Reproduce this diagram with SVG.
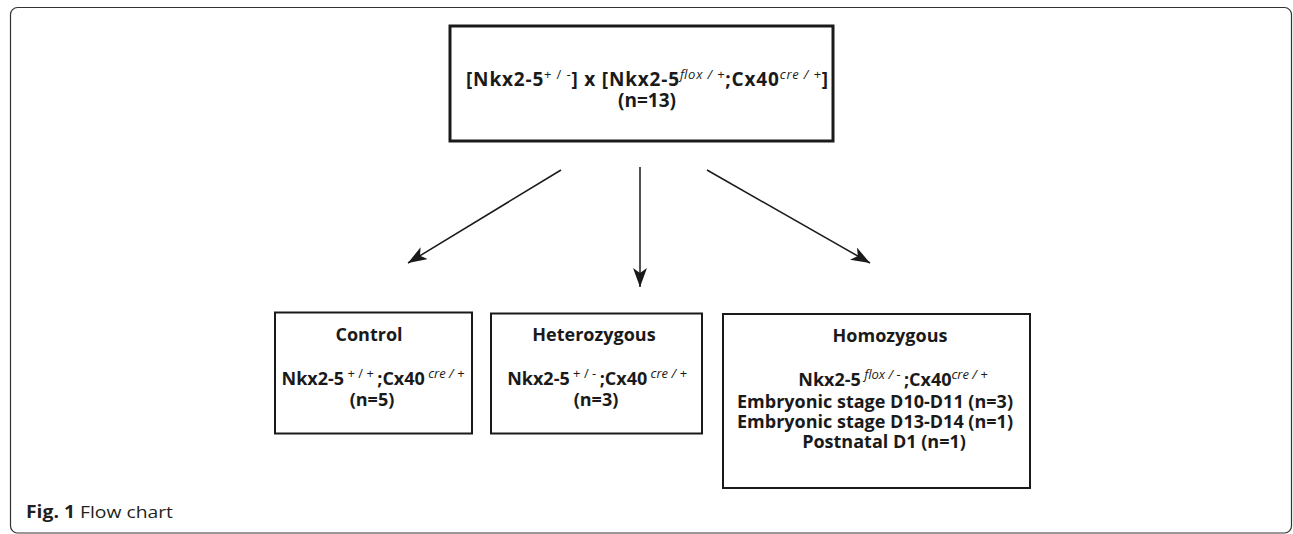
<svg xmlns="http://www.w3.org/2000/svg" width="1293" height="534" viewBox="0 0 1293 534">
<style>
.box{fill:#fff;stroke:#1a1a1a}
.t{font-family:"Open Sans","Noto Sans",sans-serif;font-weight:bold;font-size:18px;fill:#1a1a1a;text-anchor:middle}
.big{font-size:19px}
.sup{font-size:13px;font-weight:normal}
.it{font-style:italic}
.cap{font-family:"Open Sans","Noto Sans",sans-serif;font-size:17px;fill:#231f20}
.conn{stroke:#1a1a1a;stroke-width:1.5;fill:none}
</style>
<defs>
<marker id="ah" markerUnits="userSpaceOnUse" markerWidth="22" markerHeight="16" refX="19" refY="7" orient="auto">
<path d="M0,0 L19,7 L0,14 L5,7 Z" fill="#1a1a1a"/>
</marker>
</defs>
<rect x="10.5" y="7.5" width="1281" height="525.5" rx="7" fill="none" stroke="#333" stroke-width="1.2"/>
<g id="top">
<rect class="box" x="450" y="26" width="383" height="115" stroke-width="3"/>
<text class="t big" x="647" y="86" textLength="362" lengthAdjust="spacing">[Nkx2-5<tspan class="sup" font-size="14" dy="-7">+ / -</tspan><tspan dy="7">] x [Nkx2-5</tspan><tspan class="sup it" font-size="14" dy="-7">flox / +</tspan><tspan dy="7">;Cx40</tspan><tspan class="sup it" font-size="14" dy="-7">cre / +</tspan><tspan dy="7">]</tspan></text>
<text class="t big" x="647" y="107">(n=13)</text>
</g>
<g id="control">
<rect class="box" x="275" y="312.5" width="197" height="121" stroke-width="2"/>
<text class="t" x="369" y="341">Control</text>
<text class="t" x="373" y="385">Nkx2-5<tspan class="sup" dy="-7"> + / + </tspan><tspan dy="7">;Cx40</tspan><tspan class="sup it" dy="-7"> cre / +</tspan></text>
<text class="t" x="372" y="406">(n=5)</text>
</g>
<g id="heterozygous">
<rect class="box" x="491" y="313.5" width="211" height="120" stroke-width="2"/>
<text class="t" x="594" y="341">Heterozygous</text>
<text class="t" x="597" y="385">Nkx2-5<tspan class="sup" dy="-7"> + / - </tspan><tspan dy="7">;Cx40</tspan><tspan class="sup it" dy="-7"> cre / +</tspan></text>
<text class="t" x="596" y="406">(n=3)</text>
</g>
<g id="homozygous">
<rect class="box" x="723" y="314" width="307" height="174" stroke-width="2"/>
<text class="t" x="890" y="342">Homozygous</text>
<text class="t" x="893" y="386">Nkx2-5<tspan class="sup it" dy="-7"> flox / - </tspan><tspan dy="7">;Cx40</tspan><tspan class="sup it" dy="-7">cre / +</tspan></text>
<text class="t" x="875" y="408">Embryonic stage D10-D11 (n=3)</text>
<text class="t" x="875" y="428">Embryonic stage D13-D14 (n=1)</text>
<text class="t" x="884" y="448">Postnatal D1 (n=1)</text>
</g>
<g id="connectors">
<line class="conn" x1="561" y1="170" x2="408" y2="263" marker-end="url(#ah)"/>
<line class="conn" x1="640" y1="167" x2="640" y2="287" marker-end="url(#ah)"/>
<line class="conn" x1="707" y1="170" x2="870" y2="263" marker-end="url(#ah)"/>
</g>
<text class="cap" x="26" y="518" textLength="147" lengthAdjust="spacingAndGlyphs"><tspan font-weight="bold">Fig. 1</tspan> Flow chart</text>
</svg>
